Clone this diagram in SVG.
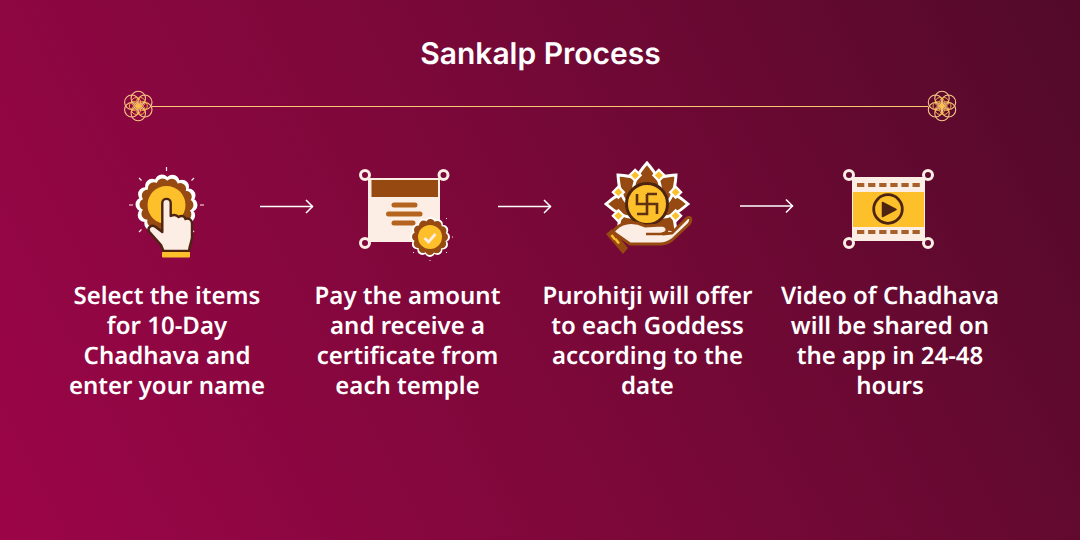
<svg xmlns="http://www.w3.org/2000/svg" width="1080" height="540" viewBox="0 0 1080 540">
<defs>
<linearGradient id="bg" gradientUnits="userSpaceOnUse" x1="20" y1="540" x2="1060" y2="0">
<stop offset="0" stop-color="#9b0548"/><stop offset="0.5" stop-color="#7a0838"/><stop offset="1" stop-color="#530a2a"/>
</linearGradient>
<g id="mandala" fill="none">
<g stroke="#f7c684" stroke-width="1.100">
<circle cx="0" cy="-7.500" r="7.200"/><circle cx="6.500" cy="-3.750" r="7.200"/><circle cx="6.500" cy="3.750" r="7.200"/><circle cx="0" cy="7.500" r="7.200"/><circle cx="-6.500" cy="3.750" r="7.200"/><circle cx="-6.500" cy="-3.750" r="7.200"/>
</g>
<g stroke="#fdbf4a" stroke-width="0.900">
<circle cx="4.500" cy="0" r="4.500"/><circle cx="-4.500" cy="0" r="4.500"/><circle cx="2.250" cy="3.900" r="4.500"/><circle cx="-2.250" cy="3.900" r="4.500"/><circle cx="2.250" cy="-3.900" r="4.500"/><circle cx="-2.250" cy="-3.900" r="4.500"/>
</g>
</g>
<path id="petal" d="M0-41C8-32 15-22 13-12L-13-12C-15-22-8-32 0-41Z" fill="#964a12" stroke="#fff" stroke-width="3" stroke-linejoin="miter"/>
<g id="gem"><rect x="-5" y="-5" width="10" height="10" fill="#fff"/><rect x="-2.800" y="-2.800" width="5.600" height="5.600" fill="#fdbf2a"/></g>
<marker id="arr" viewBox="0 0 12 16" markerWidth="12" markerHeight="16" refX="11" refY="8" orient="auto" markerUnits="userSpaceOnUse">
<path d="M4 1.500L10.500 8L4 14.500" fill="none" stroke="#fff" stroke-width="1.500"/>
</marker>
</defs>
<style>
text{font-family:"Noto Sans",sans-serif;font-weight:600;fill:#fff;text-anchor:middle;text-rendering:geometricPrecision}
.t{font-size:24px}
.title{font-family:Inter,sans-serif;font-size:30px}
.corner{fill:none;stroke:#fdeee5;stroke-width:3}
.conn{fill:none;stroke:#fff;stroke-width:1.500;marker-end:url(#arr)}
</style>
<rect width="1080" height="540" fill="url(#bg)"/>
<text class="title" x="540.500" y="63.500">Sankalp Process</text>
<g id="divider">
<line x1="152" y1="106.500" x2="928" y2="106.500" stroke="#fbc777" stroke-width="1"/>
<use href="#mandala" x="138.300" y="106"/>
<use href="#mandala" x="942" y="106"/>
</g>
<g id="connectors">
<line class="conn" x1="260" y1="206.500" x2="313" y2="206.500"/>
<line class="conn" x1="498" y1="206.500" x2="551" y2="206.500"/>
<line class="conn" x1="740" y1="206" x2="793" y2="206"/>
</g>
<g id="step1">
<path d="M166.500 167V171M166.500 239V243M129 205H133M200 205H204M139 178L141.500 180.500M194 178L191.500 180.500M139 232L141.500 229.500M194 232L191.500 229.500" stroke="#fdeee5" stroke-width="1.200"/>
<circle cx="166.500" cy="205" r="24" fill="#fff" stroke="#fff" stroke-width="14" stroke-linecap="round" stroke-dasharray="0 10.771"/>
<circle cx="166.500" cy="205" r="21" fill="#964a12" stroke="#964a12" stroke-width="12" stroke-linecap="round" stroke-dasharray="0 9.425"/>
<circle cx="166.500" cy="205" r="19" fill="#fdbf2a"/>
<path d="M163.500 251L161 245L149.500 232C146.500 228 151 224.500 155 226.500L162.300 232L162.300 203C162.300 197.500 170.700 197.500 170.700 203L170.700 216C173.500 214.500 176.500 214.500 178.500 217C181.500 215 184.500 216 185.500 219C188.500 217.500 192 219.500 192 223.500L192 237C192 241 189.500 245 189 251Z" fill="#fdeee5" stroke="#4c2411" stroke-width="2.400" stroke-linejoin="round"/>
<rect x="162" y="251.500" width="28" height="6" rx="1" fill="#fdbf2a"/>
<rect x="162" y="250" width="28" height="2" fill="#4c2411"/>
</g>
<g id="step2">
<rect x="368" y="178" width="72" height="64" fill="#fdeee5"/>
<rect x="371.500" y="180" width="66.500" height="17" fill="#964a12"/>
<path d="M394 205H415M388.500 214H420M394 223H413" stroke="#b5641f" stroke-width="5" stroke-linecap="round"/>
<circle class="corner" cx="365" cy="175" r="4.500"/>
<circle class="corner" cx="443.500" cy="175" r="4.500"/>
<circle class="corner" cx="365" cy="243" r="4.500"/>
<circle cx="430" cy="237" r="15" fill="#fff" stroke="#fff" stroke-width="10" stroke-linecap="round" stroke-dasharray="0 7.854"/>
<circle cx="430" cy="237" r="13.500" fill="#964a12" stroke="#964a12" stroke-width="9" stroke-linecap="round" stroke-dasharray="0 7.069"/>
<circle cx="430" cy="237" r="12" fill="#fdbf2a"/>
<path d="M424.500 238L428.500 242L435.500 234" fill="none" stroke="#fdeee5" stroke-width="2.800"/>
<path d="M446 219L447 218M452 237H453M446 252L447 253M430 260V261M414 252L413 253" stroke="#fdeee5" stroke-width="1"/>
</g>
<g id="step3">
<g transform="translate(647 204)">
<use href="#petal" transform="rotate(135)"/><use href="#petal" transform="rotate(-135)"/><use href="#petal" transform="rotate(90)"/><use href="#petal" transform="rotate(-90)"/><use href="#petal" transform="rotate(45)"/><use href="#petal" transform="rotate(-45)"/><use href="#petal"/>
<use href="#gem" transform="rotate(22.500) translate(0 -31) rotate(-22.500) rotate(45)"/>
<use href="#gem" transform="rotate(-22.500) translate(0 -31) rotate(22.500) rotate(45)"/>
<use href="#gem" transform="rotate(67.500) translate(0 -31) rotate(-67.500) rotate(45)"/>
<use href="#gem" transform="rotate(-67.500) translate(0 -31) rotate(67.500) rotate(45)"/>
<use href="#gem" transform="rotate(112.500) translate(0 -31) rotate(-112.500) rotate(45)"/>
<use href="#gem" transform="rotate(-112.500) translate(0 -31) rotate(112.500) rotate(45)"/>
<circle r="20.500" fill="#fdbf2a" stroke="#4c2411" stroke-width="3"/>
<path d="M-10-10V0H10V10M0-10H10M0-10V10H-10" fill="none" stroke="#5f3011" stroke-width="2.600"/>
</g>
<path d="M613 232C620 222 632 220 645 226L662 225C668 226 669 232 663 234L672 233L687 218C691 216 692 220 689 224L672 240C668 243 664 244 660 244L630 244Z" fill="#fdeee5" stroke="#964a12" stroke-width="3" stroke-linejoin="round"/>
<path d="M646 234H661L668 232" fill="none" stroke="#964a12" stroke-width="2.500"/>
<path d="M606 234L612 229L628 248L623 254Z" fill="#964a12"/>
<path d="M611.500 235L615 239.500M615.500 239L619 243.500" stroke="#fdbf2a" stroke-width="2.500"/>
</g>
<g id="step4">
<rect x="852" y="177" width="73" height="64" fill="#fdeee5"/>
<rect x="853" y="192" width="71" height="35" fill="#fdbf2a"/>
<path d="M857 185H923M857 232H923" stroke="#a7602a" stroke-width="4" stroke-dasharray="7.300 3.800"/>
<circle cx="888" cy="209" r="14.300" fill="none" stroke="#4c2411" stroke-width="2.800"/>
<path d="M882.500 202.500L896 209.500L882.500 216.500Z" fill="#4c2411" stroke="#4c2411" stroke-width="1.500" stroke-linejoin="round"/>
<circle class="corner" cx="849" cy="175" r="4.500"/>
<circle class="corner" cx="928" cy="175" r="4.500"/>
<circle class="corner" cx="849" cy="243" r="4.500"/>
<circle class="corner" cx="928" cy="243" r="4.500"/>
</g>
<g id="label1"><text class="t" x="167" y="304">Select the items</text><text class="t" x="167" y="334">for 10-Day</text><text class="t" x="167" y="364">Chadhava and</text><text class="t" x="167" y="394">enter your name</text></g>
<g id="label2"><text class="t" x="407.500" y="304">Pay the amount</text><text class="t" x="407.500" y="334">and receive a</text><text class="t" x="407.500" y="364">certificate from</text><text class="t" x="407.500" y="394">each temple</text></g>
<g id="label3"><text class="t" x="647.500" y="304">Purohitji will offer</text><text class="t" x="647.500" y="334">to each Goddess</text><text class="t" x="647.500" y="364">according to the</text><text class="t" x="647.500" y="394">date</text></g>
<g id="label4"><text class="t" x="890" y="304">Video of Chadhava</text><text class="t" x="890" y="334">will be shared on</text><text class="t" x="890" y="364">the app in 24-48</text><text class="t" x="890" y="394">hours</text></g>
</svg>
